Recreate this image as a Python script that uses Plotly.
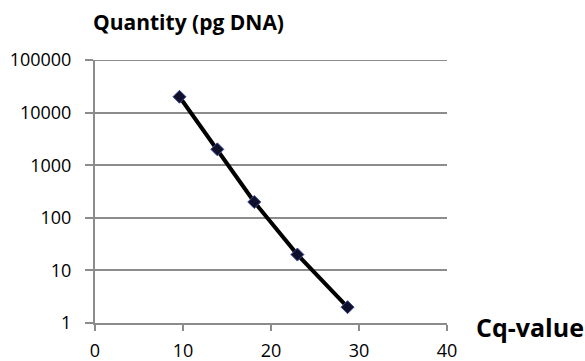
import plotly.graph_objects as go

# Standard curve: Cq-value vs DNA quantity
cq_values = [9.6, 13.9, 18.1, 23.0, 28.7]
quantity_pg = [20000, 2000, 200, 20, 2]

x_ticks = [0, 10, 20, 30, 40]
y_ticks = [1, 10, 100, 1000, 10000, 100000]
y_tick_text = ["1", "10", "100", "1000", "10000", "100000"]

axis_grey = "#8c8c8c"
font_family = "Open Sans, Lato, sans-serif"

fig = go.Figure()
fig.add_trace(go.Scatter(
    x=cq_values,
    y=quantity_pg,
    mode="lines+markers",
    line=dict(color="#000000", width=4),
    marker=dict(symbol="diamond", size=10, color="#10102a",
                line=dict(color="#3a4a9a", width=1)),
    showlegend=False,
))

# top gridline (at the range edge plotly leaves it out)
fig.add_shape(type="line", xref="paper", yref="y", x0=0, x1=1,
              y0=y_ticks[-1], y1=y_ticks[-1],
              line=dict(color=axis_grey, width=2), layer="below")

fig.update_layout(
    width=585,
    height=361,
    margin=dict(l=95, r=138, t=60, b=38, autoexpand=False),
    paper_bgcolor="white",
    plot_bgcolor="white",
    font=dict(family=font_family, color="#000000", size=18),
    xaxis=dict(
        range=[0, 40],
        tickvals=x_ticks,
        showgrid=False,
        zeroline=False,
        showline=True,
        linecolor=axis_grey,
        linewidth=2,
        ticks="outside",
        ticklen=6,
        tickwidth=2,
        tickcolor=axis_grey,
        ticklabelstandoff=4,
        automargin=False,
        tickfont=dict(size=18),
    ),
    yaxis=dict(
        type="log",
        range=[0, 5],
        tickvals=y_ticks,
        ticktext=y_tick_text,
        showgrid=True,
        gridcolor=axis_grey,
        gridwidth=2,
        zeroline=False,
        showline=True,
        linecolor=axis_grey,
        linewidth=2,
        ticks="outside",
        ticklen=8,
        tickwidth=2,
        tickcolor=axis_grey,
        ticklabelstandoff=10,
        automargin=False,
        tickfont=dict(size=18),
    ),
    annotations=[
        dict(text="<b>Quantity (pg DNA)</b>", xref="paper", yref="paper",
             x=0.0, y=1.0, xanchor="left", yanchor="middle", yshift=38,
             xshift=-4, showarrow=False, font=dict(size=21)),
        dict(text="<b>Cq-value</b>", xref="paper", yref="paper",
             x=1.0, y=0.0, xanchor="left", yanchor="middle", xshift=27,
             yshift=-4, showarrow=False, font=dict(size=25)),
    ],
)

fig.write_html("out.html")
